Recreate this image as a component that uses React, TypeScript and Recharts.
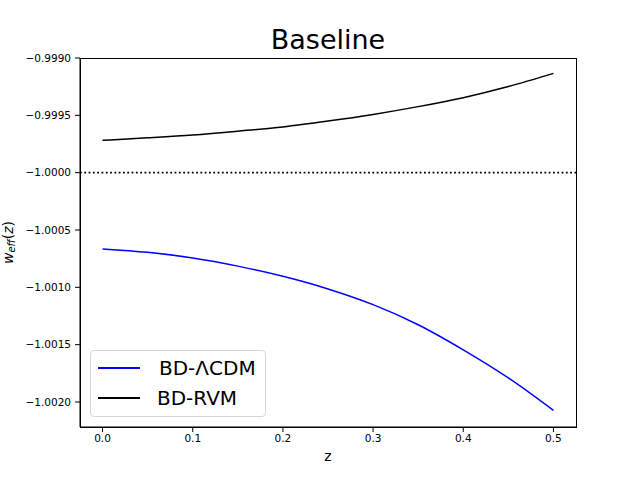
import React from 'react';
import { LineChart, Line, XAxis, YAxis, ReferenceLine, Label } from 'recharts';

const zValues = [0, 0.05, 0.1, 0.15, 0.2, 0.25, 0.3, 0.35, 0.4, 0.45, 0.5];
const bdLcdm = [-1.000665, -1.000695, -1.000744, -1.000815, -1.000904, -1.001014, -1.001151, -1.001326, -1.001545, -1.00179, -1.002073];
const bdRvm = [-0.999718, -0.999696, -0.999671, -0.999638, -0.999601, -0.99955, -0.999492, -0.999424, -0.999346, -0.999249, -0.999134];
const xTicks = [0, 0.1, 0.2, 0.3, 0.4, 0.5];
const yTicks = [-1.002, -1.0015, -1.001, -1.0005, -1.0, -0.9995, -0.999];

const data = zValues.map((z, i) => ({ z, lcdm: bdLcdm[i], rvm: bdRvm[i] }));

const font = 'DejaVu Sans, sans-serif';
const fmtY = (v: number) => v.toFixed(4).replace('-', '\u2212');

const YLabel = (props: any) => {
  const vb = props.viewBox || {};
  const cx = 8;
  const cy = vb.y + vb.height / 2;
  return (
    <text x={cx} y={cy} transform={`rotate(-90, ${cx}, ${cy})`} textAnchor="middle" dominantBaseline="central"
      fontFamily={font} fontSize={14} fill="#000">
      <tspan fontStyle="italic">w</tspan>
      <tspan fontStyle="italic" fontSize={10} dy={3}>eff</tspan>
      <tspan dy={-3}>(</tspan>
      <tspan fontStyle="italic">z</tspan>
      <tspan>)</tspan>
    </text>
  );
};

const LegendBox = () => (
  <div style={{
    position: 'absolute', left: 90, top: 350, width: 174, height: 65,
    border: '1px solid #d6d6d6', borderRadius: 4, background: 'rgba(255,255,255,0.8)',
    fontFamily: font, fontSize: 20, color: '#000',
  }}>
    {[{ name: 'BD-\u039BCDM', color: '#0000ff' }, { name: 'BD-RVM', color: '#000000' }].map((it, i) => (
      <div key={it.name} style={{ position: 'absolute', left: 0, top: 4 + i * 29.5, height: 26, display: 'flex', alignItems: 'center' }}>
        <div style={{ marginLeft: 7, width: 42, height: 2, background: it.color }} />
        <span style={{ marginLeft: i === 0 ? 19 : 17 }}>{it.name}</span>
      </div>
    ))}
  </div>
);

export default function App() {
  return (
    <div style={{ position: 'absolute', left: 0, top: 0, width: 640, height: 480, background: '#fff' }}>
      <div style={{ position: 'absolute', left: 0, top: 24, width: 656, textAlign: 'center', fontFamily: font, fontSize: 27 }}>
        Baseline
      </div>
      <LineChart width={640} height={480} data={data} margin={{ top: 58, right: 64, bottom: 23, left: 8 }}>
        <XAxis dataKey="z" type="number" domain={[-0.025, 0.525]} ticks={xTicks} allowDataOverflow
          tickFormatter={(v: number) => v.toFixed(1)} height={30} tickSize={5} tickMargin={3}
          axisLine={{ stroke: '#000' }} tickLine={{ stroke: '#000' }}
          tick={{ fill: '#000', fontSize: 10.5, fontFamily: font }}>
          <Label value="z" position="bottom" offset={-6} style={{ fill: '#000', fontSize: 14, fontFamily: font }} />
        </XAxis>
        <YAxis type="number" domain={[-1.002218, -0.999]} ticks={yTicks} allowDataOverflow width={72}
          tickFormatter={fmtY} tickSize={5} tickMargin={4}
          axisLine={{ stroke: '#000' }} tickLine={{ stroke: '#000' }}
          tick={{ fill: '#000', fontSize: 10.5, fontFamily: font }}>
          <Label content={<YLabel />} />
        </YAxis>
        <ReferenceLine y={-1} stroke="#000" strokeWidth={1.8} strokeDasharray="1.8 2.5" />
        <Line type="monotone" dataKey="lcdm" stroke="#0000ff" strokeWidth={1.5} dot={false} isAnimationActive={false} />
        <Line type="monotone" dataKey="rvm" stroke="#000000" strokeWidth={1.5} dot={false} isAnimationActive={false} />
      </LineChart>
      <div style={{ position: 'absolute', left: 80, top: 58, width: 495, height: 368, border: '1px solid #000', pointerEvents: 'none' }} />
      <LegendBox />
    </div>
  );
}
